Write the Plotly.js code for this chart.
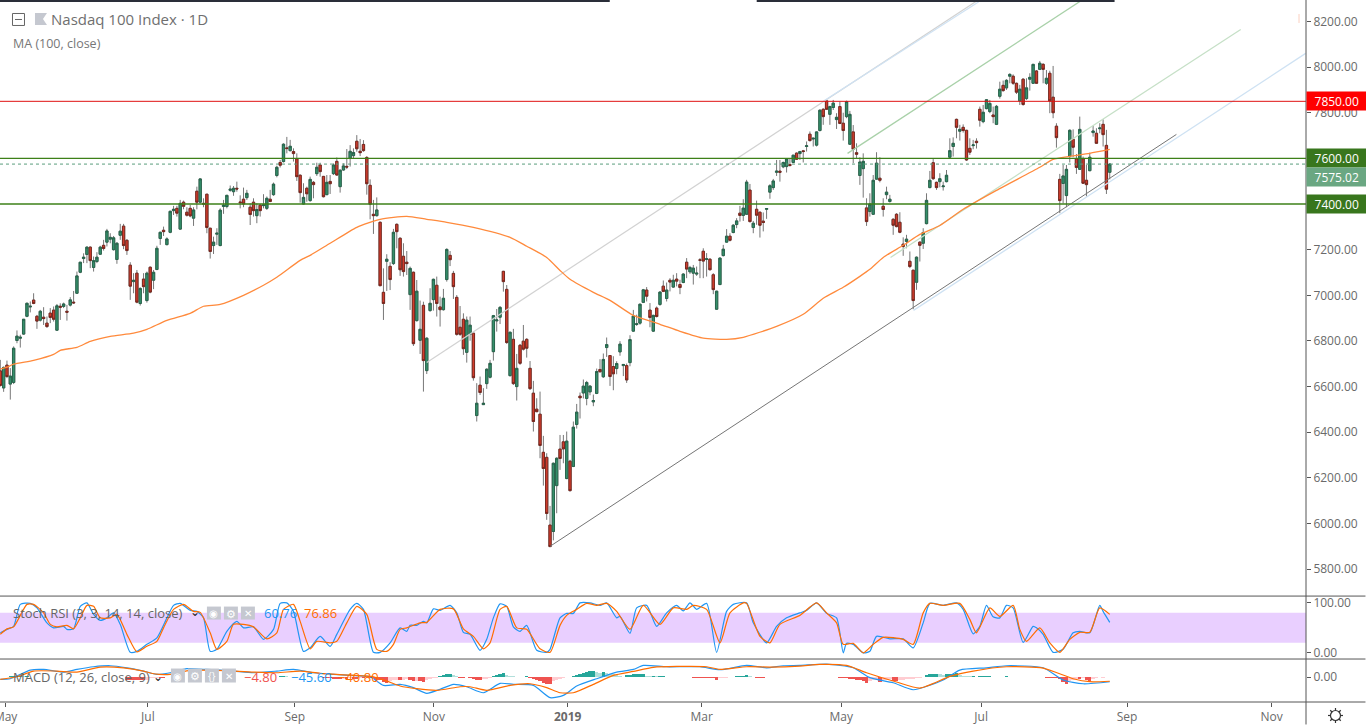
<!DOCTYPE html>
<html><head><meta charset="utf-8">
<script src="https://cdn.plot.ly/plotly-3.0.1.min.js"></script>
<style>html,body{margin:0;padding:0;background:#fff;overflow:hidden}</style></head>
<body><div id="chart" style="width:1366px;height:725px"></div>
<script>
const opens=[6669,6594,6694,6611,6618,6802,6812,6830,6908,6949,
6979,6908,6891,6904,6878,6922,6935,6847,6952,6951,
6930,6957,6970,7009,7101,7161,7179,7211,7122,7148,
7180,7219,7233,7246,7200,7157,7263,7303,7241,7132,
7060,7097,6964,7071,6977,7123,7066,7113,7249,7285,
7222,7276,7371,7381,7290,7408,7364,7381,7338,7456,
7408,7403,7443,7294,7218,7268,7218,7389,7389,7460,
7454,7469,7409,7421,7428,7386,7408,7349,7395,7393,
7381,7421,7441,7525,7582,7586,7646,7634,7630,7598,
7526,7400,7469,7415,7495,7533,7571,7521,7441,7499,
7533,7587,7476,7549,7565,7600,7612,7675,7631,7661,
7604,7482,7355,7349,7320,7013,7149,7127,7139,7311,
7250,7171,7145,7003,7101,6889,6803,6956,6670,6933,
6981,7044,6949,6937,7069,7175,7096,6991,6860,6895,
6750,6829,6834,6473,6606,6521,6613,6641,6753,6888,
6904,7105,7026,6648,6807,6600,6781,6799,6807,6680,
6571,6501,6479,6312,6290,5993,5965,6166,6326,6358,
6197,6273,6250,6434,6558,6572,6548,6577,6533,6570,
6675,6643,6771,6736,6688,6679,6752,6692,6692,6705,
6843,6872,6878,6969,7023,6935,6843,6944,6960,7040,
6986,7066,7036,7071,7047,7056,7145,7103,7097,7093,
7155,7193,7157,7158,7090,6939,7047,7174,7233,7259,
7275,7310,7360,7350,7355,7461,7297,7377,7364,7325,
7377,7452,7472,7539,7544,7563,7564,7573,7582,7623,
7621,7633,7652,7706,7685,7658,7722,7815,7852,7793,
7823,7770,7827,7754,7783,7662,7716,7625,7525,7555,
7383,7367,7355,7509,7513,7390,7441,7411,7333,7355,
7320,7224,7236,7149,7110,7057,7233,7228,7314,7472,
7581,7495,7498,7476,7498,7605,7652,7771,7719,7736,
7723,7644,7656,7675,7815,7761,7818,7805,7790,7749,
7872,7920,7909,7960,7960,7929,7852,7947,7862,7947,
7929,7983,7990,8012,7929,7973,7868,7741,7508,7490,
7437,7609,7684,7598,7552,7598,7504,7546,7713,7710,
7730,7749,7657,7539];
const closes=[6605,6684,6644,6646,6768,6821,6816,6895,6965,6952,
6964,6887,6930,6898,6863,6903,6895,6954,6948,6962,
6926,6980,6967,7085,7145,7167,7211,7152,7152,7167,
7211,7205,7282,7254,7252,7228,7281,7218,7196,7040,
7066,6970,7030,7038,7097,7014,7101,7206,7276,7279,
7247,7368,7377,7360,7403,7390,7351,7348,7374,7408,
7510,7400,7297,7192,7233,7272,7373,7395,7438,7465,
7469,7466,7406,7400,7447,7354,7371,7376,7371,7396,
7425,7411,7487,7561,7570,7662,7643,7653,7621,7520,
7450,7429,7445,7508,7485,7561,7542,7432,7495,7489,
7571,7527,7548,7567,7562,7631,7626,7642,7625,7634,
7489,7399,7349,7374,7042,6964,7158,7069,7276,7279,
7112,7104,7139,7118,6788,7018,6851,6714,6812,6965,
7070,6964,6937,6987,7201,7156,7038,6829,6829,6766,
6891,6869,6639,6527,6574,6527,6676,6702,6911,6892,
6947,7060,6793,6838,6613,6680,6702,6764,6768,6591,
6447,6490,6342,6241,6044,5899,6264,6286,6285,6327,
6361,6144,6422,6488,6551,6602,6618,6602,6539,6666,
6665,6719,6784,6644,6656,6701,6786,6697,6629,6806,
6909,6875,6961,7024,6996,6903,6912,6907,7014,7017,
7023,7058,7066,7062,7034,7093,7115,7122,7119,7097,
7154,7150,7160,7112,7025,7018,7163,7202,7259,7241,
7307,7326,7350,7382,7496,7323,7316,7351,7307,7319,
7380,7480,7501,7544,7539,7582,7598,7569,7614,7596,
7630,7630,7655,7678,7688,7716,7811,7783,7815,7827,
7842,7780,7753,7722,7849,7793,7640,7618,7584,7587,
7323,7400,7504,7579,7504,7376,7452,7421,7307,7301,
7276,7214,7246,7126,6977,7167,7219,7275,7416,7504,
7511,7472,7511,7479,7526,7634,7666,7736,7727,7722,
7593,7627,7659,7669,7767,7802,7857,7841,7783,7828,
7903,7897,7942,7968,7929,7890,7903,7836,7909,7955,
8012,7929,8017,7990,7951,7852,7800,7691,7415,7523,
7552,7723,7649,7560,7727,7491,7485,7605,7720,7666,
7733,7704,7465,7575];
const highs=[6717,6688,6714,6681,6776,6846,6827,6895,6968,6973,
7009,6914,6936,6948,6907,6944,6951,6962,6965,6968,
6958,6992,7019,7104,7146,7184,7214,7214,7170,7189,
7217,7243,7291,7272,7260,7233,7313,7313,7246,7145,
7097,7111,7035,7097,7104,7126,7111,7217,7279,7301,
7254,7371,7392,7392,7418,7415,7386,7396,7386,7476,
7513,7425,7443,7295,7257,7294,7381,7418,7440,7481,
7479,7498,7438,7472,7462,7403,7425,7403,7400,7443,
7433,7462,7494,7568,7593,7666,7694,7681,7644,7622,
7530,7491,7476,7520,7501,7581,7581,7523,7527,7527,
7578,7604,7552,7578,7641,7658,7644,7702,7685,7680,
7610,7508,7418,7429,7323,7118,7180,7145,7291,7315,
7254,7228,7194,7126,7104,7067,6977,6972,6816,7031,
7073,7082,6994,7028,7206,7194,7107,7001,6953,6921,
6907,6907,6836,6615,6644,6593,6680,6717,6914,6940,
6953,7107,7045,6841,6853,6743,6787,6870,6812,6712,
6625,6549,6578,6384,6308,6077,6267,6290,6388,6388,
6403,6279,6447,6524,6574,6631,6625,6606,6565,6679,
6720,6745,6815,6737,6733,6711,6799,6697,6701,6825,
6936,6915,6963,7028,7036,6966,6915,6951,7018,7065,
7056,7075,7090,7097,7068,7097,7163,7129,7133,7126,
7163,7206,7185,7163,7097,7020,7166,7221,7290,7272,
7312,7338,7392,7421,7506,7488,7326,7415,7367,7363,
7382,7487,7510,7593,7593,7586,7601,7601,7615,7626,
7633,7637,7674,7718,7691,7718,7815,7820,7856,7831,
7856,7798,7849,7800,7853,7808,7746,7666,7605,7622,
7425,7447,7527,7627,7605,7425,7476,7440,7338,7360,
7364,7254,7265,7192,7111,7170,7236,7294,7447,7545,
7600,7498,7535,7498,7549,7688,7692,7774,7747,7749,
7725,7688,7681,7688,7827,7834,7860,7856,7827,7834,
7936,7941,7947,7973,7968,7932,7922,7951,7951,7973,
8014,7987,8027,8017,7987,7984,8005,7754,7532,7571,
7571,7727,7727,7619,7783,7608,7571,7625,7742,7732,
7754,7771,7725,7579];
const lows=[6600,6577,6637,6543,6611,6790,6771,6827,6904,6925,
6961,6853,6885,6870,6857,6878,6885,6846,6892,6944,
6889,6951,6962,7006,7097,7141,7141,7119,7104,7141,
7177,7196,7214,7228,7196,7138,7243,7202,7177,6980,
7009,6965,6955,7009,6968,7009,7027,7110,7221,7260,
7219,7272,7352,7345,7287,7377,7345,7342,7304,7377,
7403,7386,7272,7161,7181,7221,7215,7357,7381,7454,
7436,7454,7381,7386,7418,7308,7345,7316,7345,7381,
7374,7408,7436,7517,7560,7582,7622,7630,7586,7501,
7406,7398,7410,7410,7425,7523,7520,7429,7439,7444,
7527,7524,7450,7546,7553,7564,7600,7629,7610,7629,
7441,7333,7269,7345,7041,6892,7019,7023,7133,7206,
7085,7082,7089,6936,6778,6885,6743,6578,6655,6928,
6933,6907,6863,6933,7060,7128,6984,6823,6822,6739,
6705,6801,6626,6447,6563,6520,6590,6636,6714,6841,
6874,7016,6787,6644,6607,6539,6695,6758,6727,6585,
6403,6488,6286,6166,6016,5896,5926,6045,6235,6264,
6194,6140,6247,6416,6460,6548,6518,6562,6514,6567,
6662,6638,6730,6603,6584,6654,6735,6646,6616,6689,
6839,6866,6871,6966,6973,6860,6839,6903,6954,7014,
6973,7017,7033,7039,7005,7053,7075,7094,7047,7085,
7075,7075,7082,7109,7005,6936,7046,7170,7231,7236,
7272,7294,7323,7326,7352,7319,7272,7309,7253,7280,
7335,7423,7462,7523,7498,7557,7538,7564,7579,7593,
7593,7582,7630,7674,7652,7652,7718,7747,7812,7747,
7812,7729,7750,7678,7776,7659,7579,7600,7484,7428,
7304,7345,7352,7506,7495,7345,7421,7406,7265,7298,
7272,7173,7206,7119,6939,7024,7148,7203,7311,7469,
7506,7462,7473,7459,7495,7602,7608,7688,7678,7713,
7589,7615,7640,7643,7739,7754,7815,7798,7754,7746,
7862,7892,7900,7929,7922,7882,7834,7831,7856,7897,
7926,7926,7987,7929,7922,7798,7776,7647,7360,7403,
7386,7582,7605,7532,7549,7488,7433,7544,7695,7663,
7710,7652,7444,7508];

const maIdx=[0,2,4,10,16,18,23,27,33,40,44,50,57,61,66,73,79,83,90,93,99,107,114,122,128,134,142,153,158,164,168,171,178,183,190,198,204,211,218,223,233,241,247,253,258,261,265,271,276,282,289,299,312,316,321,327,333];
const maVal=[6676,6685,6698,6715,6741,6759,6772,6798,6820,6834,6851,6890,6921,6952,6960,7000,7044,7079,7153,7175,7228,7298,7333,7346,7333,7320,7298,7254,7215,7166,7109,7070,7013,6978,6912,6873,6842,6812,6807,6816,6864,6917,6987,7035,7083,7114,7166,7219,7267,7306,7377,7460,7561,7596,7609,7622,7639];

const kIdx=[0,2,4,6,9,11,14,16,19,20,22,24,26,28,30,32,34,36,39,41,44,47,50,52,54,57,59,61,63,65,68,71,73,76,79,82,84,86,88,91,93,96,99,101,105,107,109,112,114,117,120,122,123,125,127,128,130,132,135,137,139,141,144,146,148,150,152,154,156,158,161,164,165,168,170,172,174,177,180,182,185,186,189,191,194,197,200,203,205,207,209,212,215,218,220,224,226,230,233,236,240,242,245,248,251,253,254,256,259,261,263,267,271,274,277,279,283,287,289,292,294,296,298,300,302,304,307,310,311,313,316,319,322,324,327,330,331,333];
const kVal=[40,47,53,97,99,90,60,50,53,47,48,93,100,77,65,70,80,57,1,3,17,30,70,95,99,85,83,70,3,7,43,63,50,52,27,47,99,100,83,3,10,33,13,37,87,99,87,1,1,20,50,43,55,55,63,60,88,85,95,80,41,37,5,27,70,98,93,52,43,55,5,1,7,70,79,79,100,100,95,100,70,73,39,90,95,53,80,95,84,100,87,99,1,83,97,100,60,20,53,70,80,85,100,79,70,0,19,17,0,3,33,28,28,10,60,99,95,100,87,38,53,95,72,70,95,90,21,53,50,37,1,7,40,43,40,95,83,61];
const dIdx=[0,2,4,8,10,13,15,17,20,22,24,26,28,30,33,35,38,41,44,47,49,52,55,58,60,63,65,68,70,73,76,80,83,85,88,90,93,95,99,101,104,107,110,113,116,118,120,122,126,128,132,136,139,142,145,147,150,152,155,158,162,165,168,170,173,176,179,182,185,189,193,198,202,206,208,212,216,219,223,224,228,231,234,240,245,248,251,253,256,259,262,265,271,274,277,279,283,288,291,293,297,300,304,306,308,312,315,318,321,324,327,330,333];
const dVal=[37,48,52,97,97,80,57,52,55,48,70,95,93,70,70,77,37,2,13,23,50,87,97,83,81,40,7,23,57,57,52,28,40,87,97,63,8,23,20,23,60,93,77,7,3,17,47,50,60,61,87,88,48,33,8,20,87,93,50,47,8,1,55,75,87,99,95,99,83,47,95,57,90,87,95,87,20,80,100,99,33,20,57,75,100,80,60,17,19,0,17,31,27,17,80,99,95,99,67,40,90,73,95,47,23,50,20,1,27,41,41,90,77];

const macdIdx=[0,3,6,9,13,19,23,28,33,38,43,47,51,56,62,70,76,83,88,94,100,105,111,115,120,124,128,132,136,140,145,150,154,160,165,169,173,179,185,190,193,200,210,216,224,230,235,240,248,256,261,268,274,283,288,296,302,313,319,325,333];
const macdVal=[-23,-16,26,68,74,48,74,100,110,90,58,26,42,81,74,58,42,58,74,42,26,16,3,-81,-71,-103,-158,-119,-71,-94,-152,-61,-71,-81,-200,-178,-87,-16,48,74,113,100,100,71,113,90,110,113,126,90,-6,-55,-123,-29,68,90,110,90,-29,-65,-45.6];
const signalIdx=[0,5,10,17,23,30,37,43,46,51,57,65,76,83,90,96,105,112,116,120,125,131,138,141,146,153,159,164,168,172,178,184,190,196,203,212,216,224,231,240,246,254,260,269,276,285,292,302,313,322,327,333];
const signalVal=[-23,3,58,58,48,97,90,58,32,26,65,65,48,42,58,36,19,3,-39,-87,-113,-129,-94,-94,-129,-81,-65,-103,-152,-152,-71,16,55,94,103,100,74,100,97,107,123,113,42,-48,-107,6,58,100,87,-16,-45,-40.8];

const histIdx=[3,4,5,6,7,8,38,39,40,41,42,43,44,45,46,47,48,49,50,84,85,86,87,97,98,99,100,101,102,103,104,105,106,107,108,109,110,111,112,113,114,115,116,117,118,119,120,121,122,123,124,125,126,127,128,129,130,131,132,133,134,135,136,137,138,139,141,142,143,144,145,146,147,148,149,150,151,152,153,154,158,159,160,161,162,163,164,165,166,167,168,169,171,172,173,174,175,176,177,178,179,180,181,182,183,184,185,186,188,189,190,191,192,193,194,195,196,197,198,199,200,201,202,208,209,210,211,212,213,214,215,216,217,218,221,222,223,224,225,227,228,229,230,234,235,236,252,253,254,255,256,257,258,259,260,261,262,263,264,265,266,267,268,269,270,271,272,273,274,275,276,277,278,279,280,281,282,283,284,285,286,287,288,289,290,291,292,293,294,295,296,297,298,299,300,301,302,303,306,307,310,311,313,314,315,316,317,318,319,320,321,322,323,324,325,326,327,328,329,331,332,333];
const histVal=[13,13,13,13,6,6,-25,-29,-29,-29,-29,-32,-29,-13,-10,-6,-6,-6,-3,10,13,6,3,-6,-10,-13,-16,-16,-19,-16,-16,-13,-16,-16,-13,-13,-10,-10,-19,-26,-32,-45,-58,-36,-32,-29,-29,-26,-22,-32,-42,-35,-42,-48,-29,-19,-10,-6,13,22,26,26,16,10,-6,-6,-10,-19,-26,-29,-22,-16,-10,10,16,26,35,22,13,6,6,-13,-19,-29,-42,-58,-65,-71,-39,-26,-16,-6,-3,10,19,29,39,48,55,58,48,42,45,42,32,26,16,13,16,19,26,26,26,26,13,10,10,6,6,6,3,3,3,-6,-6,-6,-6,-10,-10,-13,-29,-13,-10,-6,6,6,10,16,6,-6,-6,-6,-3,3,3,3,-6,-6,-6,-16,-19,-26,-32,-42,-58,-39,-32,-29,-48,-32,-26,-22,-39,-39,-32,-26,-22,-19,-16,-10,-6,-3,16,26,32,32,26,22,30,32,32,35,16,13,10,6,6,3,10,10,10,10,3,3,3,3,6,3,3,-3,-3,-3,-3,-6,-6,-10,-13,-16,-45,-65,-42,-29,-19,-19,-13,-29,-39,-22,-13,-6,-3,-3,-3];

const tickIdx=[1.6,44.3,88.4,130.1,170.3,210.5,252.4,294.4,338.2,381.6];
const tickText=['May','Jul','Sep','Nov','<b>2019</b>','Mar','May','Jul','Sep','Nov'];
const priceTicks=[5800,6000,6200,6400,6600,6800,7000,7200,7400,7600,7800,8000,8200];
const levelValues=[7850,7600,7400];
const lastPrice=7575.02;
const trendIdx=[165,353], trendVal=[5900,7705];
const lowerIdx=[274.1,391.8], lowerVal=[6934,8060];
const grayIdx=[128,293.3], grayVal=[6706,8292];
const upperIdx=[247,293.7], upperVal=[7850,8286];
const greenIdx=[254.3,324.5], greenVal=[7622,8292];
const paleIdx=[267.2,372.3], paleVal=[7166,8165];

const W=1306.5,H=702.5;
const F='"Open Sans", sans-serif';
const px=x=>x/W, py=y=>(H-y)/H;
const idx=opens.map((_,i)=>i);
const GREEN='#35906b',RED='#d23c2c';
const lineTrace=(x,y,color,width,smooth)=>({type:'scatter',mode:'lines',x,y,line:smooth?{color,width:width||1,shape:'spline',smoothing:0.6}:{color,width:width||1},hoverinfo:'skip'});

const histColors=histVal.map((v,i)=>{
  const p=i?histVal[i-1]:0;
  if(v>=0) return v>=p?'#26a69a':'#b2dfdb';
  return v<=p?'#ef5350':'#ffcdd2';
});

const traces=[
  lineTrace(grayIdx,grayVal,'#d2d2d2',1.2),
  lineTrace(upperIdx,upperVal,'#cfe2f3',1.2),
  lineTrace(greenIdx,greenVal,'#a9d1a9',1.3),
  lineTrace(paleIdx,paleVal,'#c6e0c7',1.3),
  lineTrace(lowerIdx,lowerVal,'#cfe2f3',1.3),
  {type:'candlestick',x:idx,open:opens,high:highs,low:lows,close:closes,whiskerwidth:0,hoverinfo:'skip',
   increasing:{line:{color:'#777777',width:1},fillcolor:'rgba(0,0,0,0)'},
   decreasing:{line:{color:'#777777',width:1},fillcolor:'rgba(0,0,0,0)'}},
  {type:'candlestick',x:idx,open:opens,close:closes,
   high:opens.map((o,i)=>Math.max(o,closes[i])),low:opens.map((o,i)=>Math.min(o,closes[i])),whiskerwidth:0,hoverinfo:'skip',
   increasing:{line:{color:'#25624a',width:0.9},fillcolor:GREEN},
   decreasing:{line:{color:'#74251c',width:0.9},fillcolor:RED}},
  lineTrace(maIdx,maVal,'#ff8a3c',1.3,true),
  lineTrace(trendIdx,trendVal,'#757575',1),
  Object.assign(lineTrace(kIdx,kVal,'#2196f3',1.2,true),{yaxis:'y2'}),
  Object.assign(lineTrace(dIdx,dVal,'#ff6d00',1.2,true),{yaxis:'y2'}),
  {type:'bar',x:histIdx,y:histVal,yaxis:'y3',marker:{color:histColors,line:{width:0}},width:1,hoverinfo:'skip'},
  Object.assign(lineTrace(macdIdx,macdVal,'#2196f3',1.2,true),{yaxis:'y3'}),
  Object.assign(lineTrace(signalIdx,signalVal,'#ff6d00',1.2,true),{yaxis:'y3'})
];

const hline=(v,color,width,dash)=>({type:'line',xref:'paper',x0:0,x1:1,yref:'y',y0:v,y1:v,line:{color,width,dash:dash||'solid'}});
const pxLine=(x0,y0,x1,y1,color,width)=>({type:'line',xref:'paper',yref:'paper',x0:px(x0),x1:px(x1),y0:py(y0),y1:py(y1),line:{color,width}});
const pxRect=(x0,y0,x1,y1,fill)=>({type:'rect',xref:'paper',yref:'paper',x0:px(x0),x1:px(x1),y0:py(y0),y1:py(y1),fillcolor:fill,line:{width:0}});
const ICON='#c5c8d0';
const GX=1336,GY=716;
const gearSpikes=[[0,-1],[0.7,-0.7],[1,0],[0.7,0.7],[0,1],[-0.7,0.7],[-1,0],[-0.7,-0.7]]
  .map(d=>pxLine(GX+d[0]*5,GY+d[1]*5,GX+d[0]*7.5,GY+d[1]*7.5,'#333',1.2));
const shapes=[
  {type:'rect',xref:'paper',x0:0,x1:1,yref:'y2',y0:20,y1:80,fillcolor:'#e9cfff',line:{width:0},layer:'below'},
  hline(80,'#555',1,'dash'),hline(20,'#555',1,'dash'),
  hline(levelValues[0],'#e01010',1),
  hline(levelValues[1],'#3d8018',1.3),
  hline(levelValues[2],'#3d8018',1.3),
  hline(lastPrice,'#5a9e7c',1,'dot'),
  pxLine(0,1,610,1,'#2a2e39',2),pxLine(757,1,1115,1,'#2a2e39',2),
  pxLine(W,0,W,725,'#555',1),
  pxLine(0,596.5,1366,596.5,'#555',1),pxLine(0,659.5,1366,659.5,'#555',1),pxLine(0,702.5,1366,702.5,'#555',1),
  pxLine(1299.5,14,1299.5,23,'#fbd0c0',1),
  {type:'rect',xref:'paper',yref:'paper',x0:px(12.5),x1:px(24.5),y0:py(13.5),y1:py(25.5),line:{color:'#666',width:1},fillcolor:'rgba(0,0,0,0)'},
  pxLine(15,19.5,22,19.5,'#666',1),
  {type:'path',xref:'paper',yref:'paper',path:`M ${px(35)} ${py(13)} L ${px(47)} ${py(13)} L ${px(43)} ${py(19)} L ${px(47)} ${py(25)} L ${px(35)} ${py(25)} Z`,fillcolor:ICON,line:{width:0}},
  pxRect(207,607,221,620,ICON),pxRect(224,607,238,620,ICON),pxRect(241,607,255,620,ICON),
  pxRect(171,669,185,683,ICON),pxRect(188,669,202,683,ICON),pxRect(205,669,219,683,ICON),pxRect(222,669,236,683,ICON),
  {type:'circle',xref:'paper',yref:'paper',x0:px(GX-5),x1:px(GX+5),y0:py(GY+5),y1:py(GY-5),line:{color:'#333',width:1.2},fillcolor:'rgba(0,0,0,0)'}
].concat(gearSpikes);
const txt=(x,y,text,color,size,anchor)=>({xref:'paper',yref:'paper',x:px(x),y:py(y),text,showarrow:false,xanchor:anchor||'left',yanchor:'middle',font:{family:F,size:size||12,color:color||'#777'},bgcolor:'rgba(0,0,0,0)',borderpad:0,align:'left'});
const badge=(v,text,bg)=>({xref:'paper',x:1,yref:'y',y:v,xanchor:'left',yanchor:'middle',text,showarrow:false,width:59.5,height:18,bgcolor:bg,font:{family:F,size:12,color:'#fff'},borderpad:0,align:'center'});
const annotations=[
  txt(50.5,19,'Nasdaq 100 Index · 1D','#6f6f6f',15),
  txt(12,44,'MA (100, close)','#777',12.5),
  txt(12,613,'Stoch RSI (3, 3, 14, 14, close)','#666',13),
  txt(189,612,'⌄','#222',12),
  txt(214,613.5,'◉','#fff',10,'center'),txt(231,613.5,'⚙','#fff',11,'center'),txt(248,613.5,'✕','#fff',10,'center'),
  txt(263,613,'60.76','#2196f3',13),txt(303,613,'76.86','#ff6d00',13),
  txt(12,677,'MACD (12, 26, close, 9)','#666',13),
  txt(152,677,'⌄','#222',12),
  txt(178,676,'◉','#fff',10,'center'),txt(195,676,'⚙','#fff',11,'center'),txt(212,676,'{}','#fff',10,'center'),txt(229,676,'✕','#fff',10,'center'),
  txt(243,677,'−4.80','#ef5350',13),txt(290,677,'−45.60','#2196f3',13),txt(337,677,'−40.80','#ff6d00',13),
  badge(levelValues[0],'7850.00','#ff0000'),
  badge(levelValues[1],'7600.00','#38761d'),
  badge(lastPrice-55,'7575.02','#6aa782'),
  badge(levelValues[2],'7400.00','#38761d')
];
const axisFont={family:F,size:12,color:'#6a6a6a'};
const yBase={side:'right',anchor:'x',showgrid:false,zeroline:false,showline:false,ticks:'outside',ticklen:4,tickcolor:'#555',tickformat:'.2f',tickfont:axisFont,fixedrange:true,tickmode:'array'};
const layout={
  width:1366,height:725,margin:{l:0,r:59.5,t:0,b:22.5,pad:0},paper_bgcolor:'#fff',plot_bgcolor:'#fff',showlegend:false,
  bargap:0,barmode:'overlay',boxgap:0.02,
  xaxis:{anchor:'y3',range:[-0.09,391.9],rangeslider:{visible:false},showgrid:false,zeroline:false,showline:false,ticklabeloverflow:'allow',
    tickmode:'array',tickvals:tickIdx,ticktext:tickText,ticks:'outside',ticklen:4,tickcolor:'#555',tickfont:axisFont,fixedrange:true,tickangle:0},
  yaxis:Object.assign({},yBase,{domain:[py(596.5),1],range:[5682,8294],tickvals:priceTicks}),
  yaxis2:Object.assign({},yBase,{domain:[py(659.5),py(596.5)],range:[-12.4,113.6],tickvals:[0,100]}),
  yaxis3:Object.assign({},yBase,{domain:[0,py(659.5)],range:[-242,175],tickvals:[0]}),
  shapes,annotations
};
Plotly.newPlot('chart',traces,layout,{staticPlot:true,displayModeBar:false});
</script></body></html>
